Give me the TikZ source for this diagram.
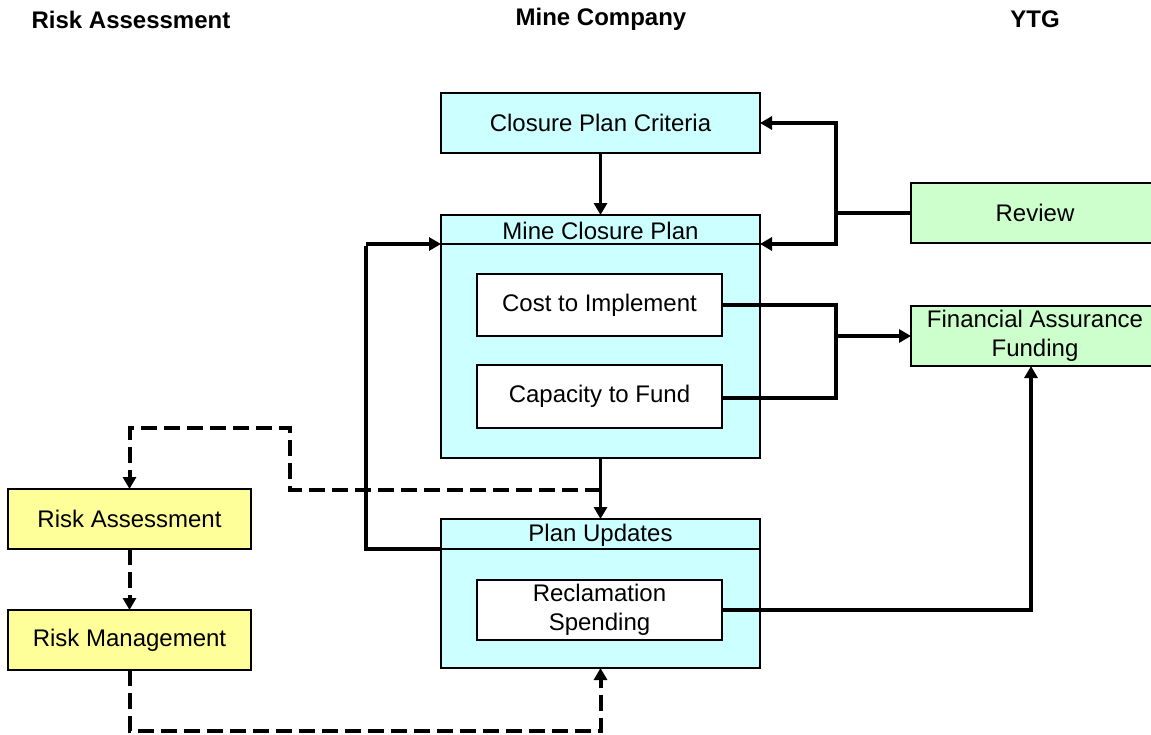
\documentclass[tikz,border=0pt]{standalone}
\usepackage{fontspec}
\setmainfont{Liberation Sans}
\usetikzlibrary{arrows.meta}
\definecolor{cy}{HTML}{CCFFFF}
\definecolor{gr}{HTML}{CCFFCC}
\definecolor{ye}{HTML}{FFFF99}
\begin{document}
\begin{tikzpicture}[x=0.5pt,y=-0.5pt,
  txt/.style={font=\fontsize{12}{14.5}\selectfont, align=center, inner sep=0pt},
  hdr/.style={font=\fontsize{12}{14.5}\selectfont\bfseries, inner sep=0pt},
  box/.style={draw, line width=1.2pt, inner sep=0pt, outer sep=0pt, align=center,
    font=\fontsize{12}{14.5}\selectfont},
  cybox/.style={box, fill=cy},
  grbox/.style={box, fill=gr},
  yebox/.style={box, fill=ye},
  whbox/.style={box, fill=white},
  hline/.style={line width=1.2pt},
  link/.style={line width=2.1pt},
  arr/.style={line width=1.6pt, -{Triangle[length=6pt,width=6.5pt]}},
  darr/.style={line width=2pt, dash pattern=on 8pt off 3.5pt, -{Triangle[length=6pt,width=6.5pt]}}
]
\useasboundingbox (0,0) rectangle (1151,734);

% headers
\node[hdr] (h1) at (131,20) {Risk Assessment};
\node[hdr] (h2) at (601,19) {Mine Company};
\node[hdr] (h3) at (1035,19) {YTG};

% boxes
\node[cybox, minimum width=159.5pt, minimum height=30pt] (CPC) at (600.5,123) {Closure Plan Criteria};
\node[cybox, minimum width=159.5pt, minimum height=121.5pt] (MCP) at (600.5,336.5) {};
\draw[hline] ([yshift=-14.5pt]MCP.north west) -- ([yshift=-14.5pt]MCP.north east);
\node[txt] (MCPt) at (600.5,231) {Mine Closure Plan};
\node[whbox, minimum width=122.5pt, minimum height=31pt] (Cost) at (599.5,305) {Cost to Implement};
\node[whbox, minimum width=122.5pt, minimum height=31.5pt] (Cap) at (599.5,396.5) {Capacity to Fund};

\node[cybox, minimum width=159.5pt, minimum height=74.5pt] (PU) at (600.5,593.5) {};
\draw[hline] ([yshift=-15pt]PU.north west) -- ([yshift=-15pt]PU.north east);
\node[txt] (PUt) at (600.5,535.5) {Plan Updates};
\node[whbox, minimum width=122.5pt, minimum height=30pt] (Rec) at (599.5,610) {Reclamation\\Spending};

\node[grbox, minimum width=124pt, minimum height=30pt] (Rev) at (1035,213) {Review};
\node[grbox, minimum width=124pt, minimum height=30pt] (FAF) at (1035,336) {Financial Assurance\\Funding};

\node[yebox, minimum width=121.5pt, minimum height=30pt] (RA) at (129.5,519) {Risk Assessment};
\node[yebox, minimum width=121.5pt, minimum height=30pt] (RM) at (129.5,640) {Risk Management};

% junction coordinates
\coordinate (rj) at (836,213);
\coordinate (rt) at (836,123);
\coordinate (rb) at (836,244);
\coordinate (mcpR) at (760,244);
\coordinate (mcpL) at (441,244);
\coordinate (puL) at (441,549);
\coordinate (pl) at (366,549);
\coordinate (plt) at (366,244);
\coordinate (ct) at (836,305);
\coordinate (cb) at (836,398);
\coordinate (fj) at (836,336);
\coordinate (capR) at (722,398);
\coordinate (rc) at (1031,610);
\coordinate (fafB) at (1031,366);
\coordinate (dj) at (600.5,490);

% solid connectors
\draw[arr] (CPC.south) -- (MCP.north);
\draw[link] (Rev.west) -- (rj);
\draw[link] ([yshift=1pt]rt) -- ([yshift=-1pt]rb);
\draw[arr] (rt) -- (CPC.east);
\draw[arr] (rb) -- (mcpR);

\draw[link] (Cost.east) -- (ct) -- (cb) -- (capR);
\draw[arr] (fj) -- (FAF.west);

\draw[link] (Rec.east) -- (rc);
\draw[arr] ([yshift=-1pt]rc) -- (fafB);

\draw[link] (puL) -- (pl) -- ([yshift=-1pt]plt);
\draw[arr] (plt) -- (mcpL);

\draw[arr] (MCP.south) -- (PU.north);

% dashed connectors
\draw[darr] (dj) -- (290,490) -- (290,428) -| (RA.north);
\draw[darr] (RA.south) -- (RM.north);
\draw[darr] (RM.south) -- (129.5,731) -| (PU.south);
\end{tikzpicture}
\end{document}
